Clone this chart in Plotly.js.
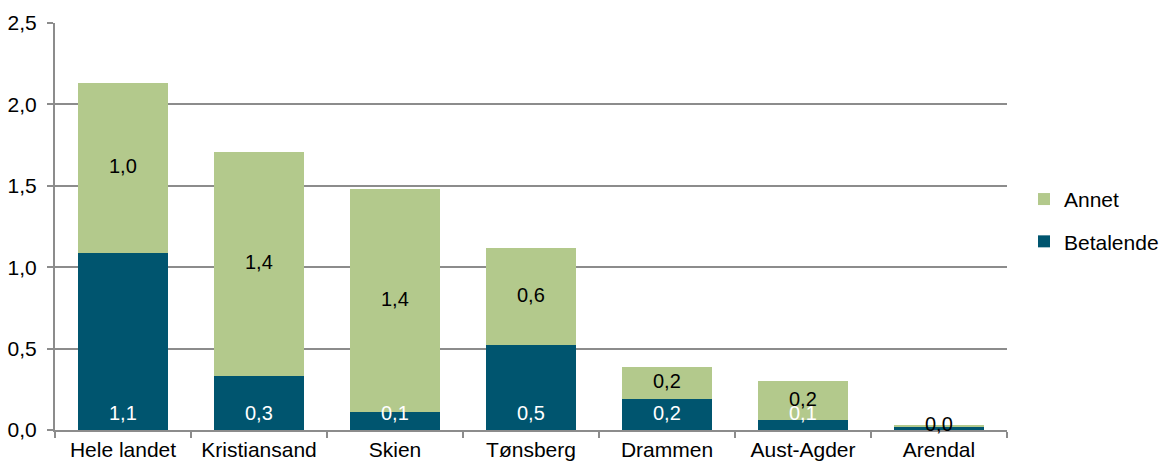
<!DOCTYPE html>
<html>
<head>
<meta charset="utf-8">
<script src="https://cdn.plot.ly/plotly-3.0.1.min.js"></script>
<style>html,body{margin:0;padding:0;background:#fff;}#chart{width:1162px;height:466px;}</style>
</head>
<body>
<div id="chart"></div>
<script>
const categories = ["Hele landet", "Kristiansand", "Skien", "Tønsberg", "Drammen", "Aust-Agder", "Arendal"];
const betalende = [1.09, 0.33, 0.11, 0.52, 0.19, 0.06, 0.02];
const annet = [1.04, 1.38, 1.37, 0.60, 0.20, 0.24, 0.01];
const yTickVals = [0, 0.5, 1.0, 1.5, 2.0, 2.5];

const fmt = v => v.toFixed(1).replace('.', ',');
const FONT = "Liberation Sans, Arial, sans-serif";

const traces = [
  {type: 'bar', name: 'Betalende', x: categories, y: betalende,
   marker: {color: '#00556f'}, legendgroup: 'b', legendrank: 2, hoverinfo: 'none'},
  {type: 'bar', name: 'Annet', x: categories, y: annet,
   marker: {color: '#b3c98c'}, legendgroup: 'a', legendrank: 1, hoverinfo: 'none'}
];

const annotations = [];
categories.forEach((c, i) => {
  annotations.push({x: c, y: 0, xref: 'x', yref: 'y', text: fmt(betalende[i]),
    showarrow: false, yanchor: 'bottom', yshift: 4,
    font: {family: FONT, size: 20, color: '#ffffff'}});
  annotations.push({x: c, y: betalende[i] + annet[i] / 2, xref: 'x', yref: 'y', text: fmt(annet[i]),
    showarrow: false, yanchor: 'middle', yshift: 2,
    font: {family: FONT, size: 20, color: '#000000'}});
});

const layout = {
  width: 1162, height: 466,
  margin: {l: 55, r: 155, t: 23, b: 36, pad: 0},
  barmode: 'stack', bargap: 0.34,
  separators: ',.',
  paper_bgcolor: '#ffffff', plot_bgcolor: '#ffffff',
  font: {family: FONT, size: 21, color: '#000000'},
  xaxis: {
    type: 'category', showgrid: false, zeroline: false,
    showline: true, linecolor: '#8c8c8c', linewidth: 2,
    ticks: 'outside', tickson: 'boundaries', ticklen: 6, tickwidth: 2, tickcolor: '#8c8c8c',
    tickfont: {family: FONT, size: 21, color: '#000'}, automargin: false
  },
  yaxis: {
    range: [0, 2.5], tickvals: yTickVals, tickformat: '.1f',
    showgrid: true, gridcolor: '#8c8c8c', gridwidth: 2,
    zeroline: false, showline: true, linecolor: '#8c8c8c', linewidth: 2,
    ticks: 'outside', ticklen: 6, tickwidth: 2, tickcolor: '#8c8c8c', ticklabelstandoff: 6,
    tickfont: {family: FONT, size: 21, color: '#000'}, automargin: false
  },
  showlegend: true,
  legend: {xref: 'container', x: 1024 / 1162, xanchor: 'left', y: 0.515, yanchor: 'middle',
    traceorder: 'grouped', tracegroupgap: 12,
    font: {family: FONT, size: 21, color: '#000'}, itemwidth: 30},
  annotations: annotations
};

Plotly.newPlot('chart', traces, layout, {displayModeBar: false, staticPlot: true});
</script>
</body>
</html>
